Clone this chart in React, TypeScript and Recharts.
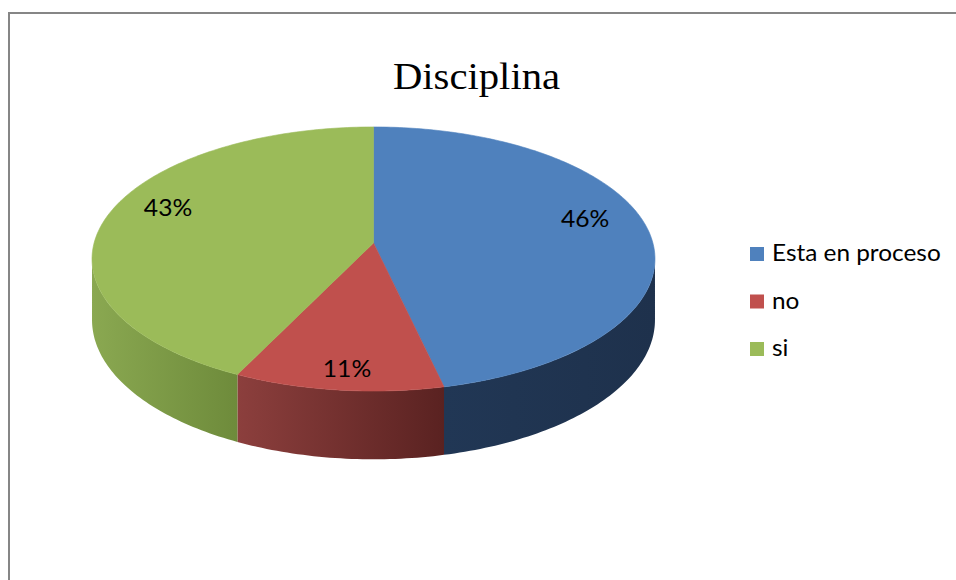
import React from 'react';
import { PieChart, Pie, Legend, Customized } from 'recharts';

const categories = ['Esta en proceso', 'no', 'si'];
const counts = [13, 3, 12];
const title = 'Disciplina';

const COLORS = ['#4F81BD', '#C0504D', '#9BBB59'];
const SIDE_COLORS = [
  ['#213755', '#1E314C'],
  ['#8C3F3D', '#5A2221'],
  ['#8AA851', '#6E8B3B'],
];

const data = categories.map((name, i) => ({ name, value: counts[i] }));

const ASPECT = 2.1476; // horizontal / vertical radius
const PERSP = 0.1212; // perspective strength
const DEPTH = 60; // thickness of the disc
const LABEL_FONT = "Lato, 'Open Sans', sans-serif";

const toRad = (d: number) => (d * Math.PI) / 180;

const renderSlice = (props: any) => {
  const { cx, cy, outerRadius, startAngle, endAngle, percent, index } = props;
  const B = outerRadius;
  const A = outerRadius * ASPECT;
  const proj = (th: number, f: number, z: number) => {
    const s = Math.sin(toRad(th));
    const c = Math.cos(toRad(th));
    const w = 1 + PERSP * f * c;
    return [cx + (A * f * s) / w, cy - (B * f * c) / w + z / w];
  };
  const t1 = 90 - startAngle;
  const t2 = 90 - endAngle;
  const arc = (a: number, b: number, z: number) => {
    const n = Math.max(2, Math.ceil(Math.abs(b - a)));
    const pts: string[] = [];
    for (let k = 0; k <= n; k++) {
      const p = proj(a + ((b - a) * k) / n, 1, z);
      pts.push(`${p[0].toFixed(2)},${p[1].toFixed(2)}`);
    }
    return pts;
  };
  const top = `M${cx},${cy} L${arc(t1, t2, 0).join(' L')} Z`;
  const tr = (Math.acos(-PERSP) * 180) / Math.PI;
  const tl = 360 - tr;
  const a = Math.max(t1, tr);
  const b = Math.min(t2, tl);
  let side: string | null = null;
  if (b > a) {
    side = `M${arc(a, b, 0).join(' L')} L${arc(b, a, DEPTH).join(' L')} Z`;
  }
  const tm = (t1 + t2) / 2;
  const lp = proj(tm, 0.77, 0);
  const ly = lp[1] + (Math.cos(toRad(tm)) >= 0 ? -14 : 15);
  const gid = `sideGrad${index}`;
  return (
    <g key={`slice-${index}`}>
      <defs>
        <linearGradient id={gid} x1="0" y1="0" x2="1" y2="0">
          <stop offset="0%" stopColor={SIDE_COLORS[index][0]} />
          <stop offset="100%" stopColor={SIDE_COLORS[index][1]} />
        </linearGradient>
      </defs>
      {side && <path d={side} fill={`url(#${gid})`} stroke="none" />}
      <path d={top} fill={COLORS[index]} stroke={COLORS[index]} strokeWidth={0.6} />
      <text
        x={0}
        y={0}
        transform={`translate(${lp[0].toFixed(2)},${ly.toFixed(2)}) scale(1.05,1)`}
        textAnchor="middle"
        dominantBaseline="central"
        fontFamily={LABEL_FONT}
        fontSize={23.5}
        fill="#000"
      >
        {`${Math.round(percent * 100)}%`}
      </text>
    </g>
  );
};

const ROW = 47.5;
const renderLegend = (props: any) => {
  const { payload } = props;
  return (
    <svg width={206} height={150} style={{ display: 'block', overflow: 'visible' }}>
      {(payload || []).map((e: any, i: number) => (
        <g key={`leg-${i}`}>
          <rect x={0} y={10 + i * ROW} width={14} height={14} fill={COLORS[i]} />
          <text
            x={0}
            y={0}
            transform={`translate(22,${10 + i * ROW + 14}) scale(1.06,1)`}
            fontFamily={LABEL_FONT}
            fontSize={23}
            fill="#000"
          >
            {e.value}
          </text>
        </g>
      ))}
    </svg>
  );
};

const Frame = () => (
  <g>
    <rect x={9} y={13} width={1000} height={1000} fill="none" stroke="#868686" strokeWidth={2} />
    <text
      x={0}
      y={0}
      transform="translate(476.5,89) scale(1.1,1)"
      textAnchor="middle"
      fontFamily="'Times New Roman', 'Liberation Serif', serif"
      fontSize={37}
      fill="#000"
    >
      {title}
    </text>
  </g>
);

export default function App() {
  return (
    <div style={{ position: 'absolute', left: 0, top: 0, background: '#fff' }}>
      <PieChart width={956} height={580} margin={{ top: 0, right: 0, bottom: 0, left: 0 }}>
        <Customized component={<Frame />} />
        <Pie
          data={data}
          dataKey="value"
          nameKey="name"
          cx={373.5}
          cy={243}
          outerRadius={130.1}
          startAngle={90}
          endAngle={-270}
          fill="none"
          stroke="none"
          label={renderSlice}
          labelLine={false}
          isAnimationActive={false}
        />
        <Legend content={renderLegend} wrapperStyle={{ left: 750, top: 237, width: 206, height: 150 }} />
      </PieChart>
    </div>
  );
}
